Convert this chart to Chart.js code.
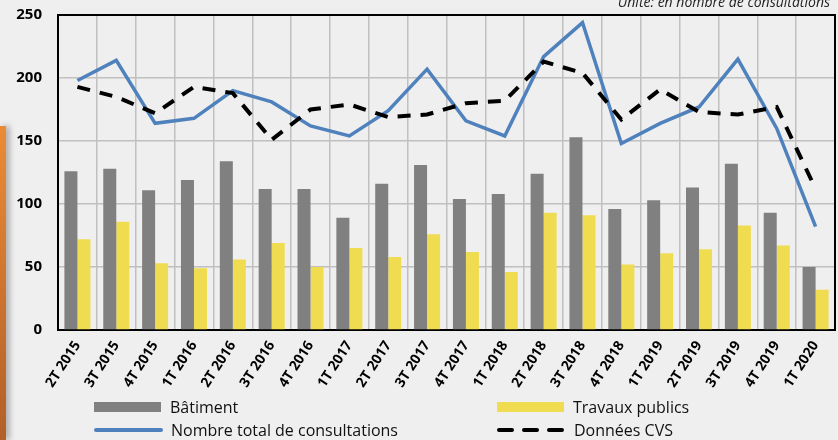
<!DOCTYPE html>
<html>
<head>
<meta charset="utf-8">
<script src="https://cdn.jsdelivr.net/npm/chart.js@4/dist/chart.umd.min.js"></script>
<style>
  body { margin: 0; background: #efefef; }
  #wrap { position: relative; width: 838px; height: 440px; overflow: hidden; background: #efefef; font-family: "Open Sans", sans-serif; }
  #side { position: absolute; left: 0; top: 126px; width: 6px; height: 314px;
          background: linear-gradient(#ec8b36, #b25f28); box-shadow: 3px 0 6px rgba(0,0,0,0.35); }
  #unit { position: absolute; right: 8px; top: -8px; font-style: italic; font-size: 14px; color: #222; }
  .leg { position: absolute; display: flex; align-items: center; font-size: 16px; color: #111; height: 20px; }
  .leg .sw { width: 67px; height: 10px; margin-right: 9px; }
  .leg svg { margin-right: 8px; }
</style>
</head>
<body>
<div id="wrap">
  <canvas id="myChart" width="838" height="440"></canvas>
  <div id="side"></div>
  <div id="unit">Unité: en nombre de consultations</div>
  <div id="legend"></div>
</div>
<script>
const quarters = ['2T 2015','3T 2015','4T 2015','1T 2016','2T 2016','3T 2016','4T 2016','1T 2017','2T 2017','3T 2017',
                  '4T 2017','1T 2018','2T 2018','3T 2018','4T 2018','1T 2019','2T 2019','3T 2019','4T 2019','1T 2020'];
const batiment = [126, 128, 111, 119, 134, 112, 112, 89, 116, 131, 104, 108, 124, 153, 96, 103, 113, 132, 93, 50];
const travaux = [72, 86, 53, 49, 56, 69, 50, 65, 58, 76, 62, 46, 93, 91, 52, 61, 64, 83, 67, 32];
const total = [198, 214, 164, 168, 190, 181, 162, 154, 174, 207, 166, 154, 217, 244, 148, 164, 177, 215, 160, 82];
const cvs = [193, 185, 172, 193, 188, 151, 175, 179, 169, 171, 180, 182, 213, 204, 167, 191, 173, 171, 177, 112];
const y_ticks = [0, 50, 100, 150, 200, 250];

const ctx = document.getElementById('myChart').getContext('2d');

// black frame round the plot area
const frame = {
    id: 'frame',
    beforeDatasetsDraw(chart) {
        const a = chart.chartArea;
        const c = chart.ctx;
        c.save();
        c.strokeStyle = '#000';
        c.lineWidth = 2;
        c.strokeRect(a.left, a.top, a.right - a.left, a.bottom - a.top);
        c.restore();
    }
};

const chart = new Chart(ctx, {
    type: 'bar',
    data: {
        labels: quarters,
        datasets: [
            { type: 'line', label: 'Données CVS', data: cvs, borderColor: '#000', borderWidth: 4,
              borderDash: [13, 10], pointRadius: 0, fill: false, tension: 0, order: 0 },
            { type: 'line', label: 'Nombre total de consultations', data: total, borderColor: '#4f81bd', borderWidth: 3.5,
              pointRadius: 0, fill: false, tension: 0, order: 1 },
            { label: 'Bâtiment', data: batiment, backgroundColor: '#808080', order: 2,
              barPercentage: 1, categoryPercentage: 0.67 },
            { label: 'Travaux publics', data: travaux, backgroundColor: '#f0dc50', order: 3,
              barPercentage: 1, categoryPercentage: 0.67 },
        ]
    },
    options: {
        responsive: false,
        animation: false,
        layout: { padding: { top: 15, right: 3, left: 0, bottom: 0 } },
        plugins: { legend: { display: false }, tooltip: { enabled: false } },
        scales: {
            x: {
                grid: { color: '#c0c0c0', lineWidth: 1.5, drawTicks: false, offset: true },
                border: { display: false },
                ticks: { color: '#000', font: { family: 'Open Sans', size: 14, weight: 'bold' },
                         minRotation: 57, maxRotation: 57, padding: 8, autoSkip: false },
                afterFit: (scale) => { scale.height = 110; }
            },
            y: {
                min: 0, max: 250,
                afterBuildTicks: (scale) => { scale.ticks = y_ticks.map(v => ({ value: v })); },
                grid: { color: '#c0c0c0', lineWidth: 1.5, drawTicks: false },
                border: { display: false },
                ticks: { color: '#000', font: { family: 'Open Sans', size: 15, weight: 'bold' }, padding: 16 },
                afterFit: (scale) => { scale.width = 58; scale.paddingTop = 0; scale.paddingBottom = 0; }
            }
        }
    },
    plugins: [frame]
});

// legend in two columns, built from the datasets
const legend = document.getElementById('legend');
const legend_spots = {
    'Bâtiment': [94, 397],
    'Travaux publics': [497, 397],
    'Nombre total de consultations': [94, 420],
    'Données CVS': [497, 420],
};
chart.data.datasets.forEach(ds => {
    const item = document.createElement('div');
    item.className = 'leg';
    item.style.left = legend_spots[ds.label][0] + 'px';
    item.style.top = legend_spots[ds.label][1] + 'px';
    if (ds.type === 'line') {
        const dash = ds.borderDash ? 'stroke-dasharray="13 12"' : '';
        item.innerHTML = '<svg width="69" height="10"><line x1="2" y1="5" x2="67" y2="5" stroke="' + ds.borderColor +
            '" stroke-width="4" stroke-linecap="round" ' + dash + '/></svg>';
    } else {
        item.innerHTML = '<div class="sw" style="background:' + ds.backgroundColor + '"></div>';
    }
    const txt = document.createElement('span');
    txt.textContent = ds.label;
    item.appendChild(txt);
    legend.appendChild(item);
});
</script>
</body>
</html>
